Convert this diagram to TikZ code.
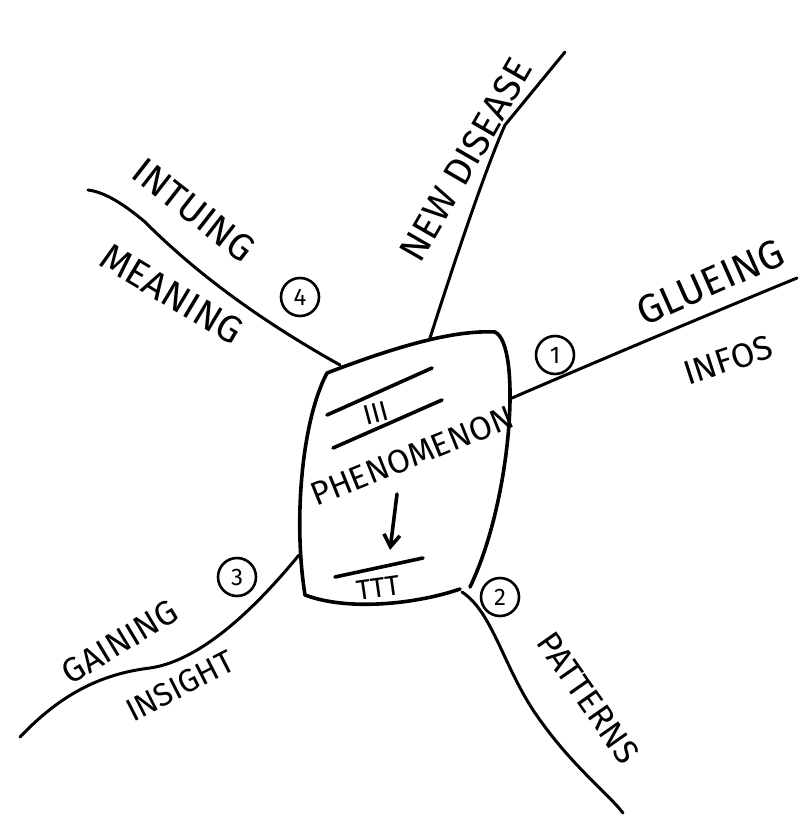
\documentclass[tikz,border=0pt]{standalone}
\usepackage{fontspec}
\setmainfont{Fira Sans}
\usetikzlibrary{arrows.meta}
\begin{document}
\begin{tikzpicture}[x=1pt,y=-1pt,
  ink/.style={line width=3.6pt,line cap=round,line join=round},
  branch/.style={line width=3pt,line cap=round},
  lbl/.style={font=\fontsize{38}{40}\selectfont,inner sep=0pt},
  num/.style={circle,draw,line width=2.6pt,minimum size=38pt,inner sep=0pt,font=\fontsize{24}{24}\selectfont}]
\useasboundingbox[fill=white] (0,0) rectangle (810,826);
% central box
\draw[ink] (327,373) .. controls (400,345) and (455,330) .. (495,332)
  .. controls (522,345) and (512,500) .. (470,587);
\draw[ink] (460,589) .. controls (420,603) and (350,612) .. (305,595)
  .. controls (293,520) and (302,420) .. (327,373);
% box contents
\draw[ink] (327,415) -- (432,368);
\draw[ink] (333,448) -- (442,400);
\node[lbl,rotate=15,font=\fontsize{28}{28}\selectfont] (iii) at (376,413) {III};
\node[lbl,rotate=22,font=\fontsize{33}{33}\selectfont] (phen) at (412,456) {PHENOMENON};
\coordinate (arA) at (397,494);
\coordinate (arB) at (390,550);
\draw[ink,-{Straight Barb[length=12pt,width=16pt]}] (arA) -- (arB);
\draw[ink] (335,577) -- (423,558);
\node[lbl,rotate=8,font=\fontsize{28}{28}\selectfont] (ttt) at (378,588) {TTT};
% box attachment points
\coordinate (btl) at (340,365);
\coordinate (btop) at (430,338);
\coordinate (br) at (512,398);
\coordinate (bl) at (299,555);
\coordinate (bbr) at (462,592);
% free ends
\coordinate (e4) at (88,190);
\coordinate (enew) at (565,52);
\coordinate (e1) at (797,278);
\coordinate (e3) at (20,737);
\coordinate (e2) at (623,813);
% branches
\draw[branch] (btl) .. controls (245,312) and (185,262) .. (145,222)
  .. controls (125,205) and (105,192) .. (e4);
\draw[branch] (btop) .. controls (455,260) and (485,170) .. (505,125) -- (enew);
\draw[branch] (br) .. controls (600,360) and (700,318) .. (e1);
\draw[branch] (bl) .. controls (262,600) and (205,660) .. (150,668)
  .. controls (100,674) and (60,695) .. (e3);
\draw[branch] (bbr) .. controls (492,612) and (502,662) .. (533,710)
  .. controls (570,765) and (605,790) .. (e2);
% labels
\node[lbl,rotate=-38] (intu) at (194,210) {INTUING};
\node[lbl,rotate=-31] (mean) at (172,294) {MEANING};
\node[num] (n4) at (300,297) {4};
\node[lbl,rotate=60] (newd) at (466,160) {NEW DISEASE};
\node[num] (n1) at (555,355) {1};
\node[lbl,rotate=24,font=\fontsize{40}{40}\selectfont] (glue) at (710,282) {GLUEING};
\node[lbl,rotate=18,font=\fontsize{34}{34}\selectfont] (infos) at (728,360) {INFOS};
\node[num] (n3) at (237,577) {3};
\node[lbl,rotate=31,font=\fontsize{34}{34}\selectfont] (gain) at (120,642) {GAINING};
\node[lbl,rotate=27,font=\fontsize{32}{32}\selectfont] (ins) at (180,686) {INSIGHT};
\node[num] (n2) at (500,597) {2};
\node[lbl,rotate=-55,font=\fontsize{34}{34}\selectfont] (patt) at (588,698) {PATTERNS};
\end{tikzpicture}
\end{document}
